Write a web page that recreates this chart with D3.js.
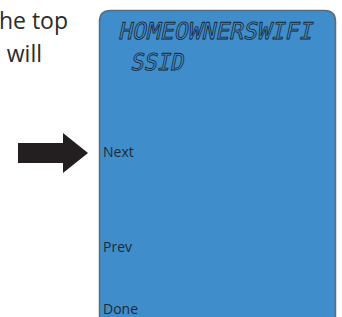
<!DOCTYPE html>
<html><head><meta charset="utf-8">
<script src="https://cdn.jsdelivr.net/npm/d3@7"></script>
<style>html,body{margin:0;padding:0;background:#fff;overflow:hidden}</style>
</head><body>
<script>
const introLines = ["the top", "will"];
const lcdLines = ["HOMEOWNERSWIFI", "SSID"];
const menuLabels = ["Next", "Prev", "Done"];

const W = 342, H = 317;
const svg = d3.select("body").append("svg").attr("width", W).attr("height", H);

// intro text (cropped at the left in the original)
const introY = [29, 62];
const introX = [68, 42];
svg.selectAll("text.intro").data(introLines).join("text")
  .attr("class", "intro")
  .attr("x", (d, i) => introX[i]).attr("y", (d, i) => introY[i])
  .attr("text-anchor", "end")
  .attr("font-family", "Open Sans, sans-serif").attr("font-size", 23)
  .attr("fill", "#2b2b2b").text(d => d);

// screen
const x0 = 99.5, x1 = 335.5, y0 = 10.5, r = 11;
svg.append("path")
  .attr("d", `M${x0},${H + 5} L${x0},${y0 + r} Q${x0},${y0} ${x0 + r},${y0} L${x1 - r},${y0} Q${x1},${y0} ${x1},${y0 + r} L${x1},${H + 5}`)
  .attr("fill", "#3f8dca").attr("stroke", "#5f6a72").attr("stroke-width", 1.5);

// LCD text
const lcdY = [39, 70];
const xStart = [118, 130];
const widths = [194, 53];
svg.selectAll("text.lcd").data(lcdLines).join("text")
  .attr("class", "lcd")
  .attr("transform", (d, i) => `translate(${xStart[i]},${lcdY[i]}) skewX(-12)`)
  .attr("textLength", (d, i) => widths[i]).attr("lengthAdjust", "spacingAndGlyphs")
  .attr("font-family", "DejaVu Sans Mono, monospace").attr("font-size", 23)
  .attr("fill", "none").attr("stroke", "#1c2530").attr("stroke-width", 0.8)
  .text(d => d);

// menu labels
const yPos = [157, 252, 314];
svg.selectAll("text.menu").data(menuLabels).join("text")
  .attr("class", "menu")
  .attr("x", 103).attr("y", (d, i) => yPos[i])
  .attr("font-family", "Open Sans, sans-serif").attr("font-size", 14)
  .attr("fill", "#1f2a36").text(d => d);

// arrow pointing at Next
svg.append("path")
  .attr("d", "M18,143 L63,143 L63,133 L88,153 L63,173 L63,163 L18,163 Z")
  .attr("fill", "#231f20");
</script>
</body></html>
